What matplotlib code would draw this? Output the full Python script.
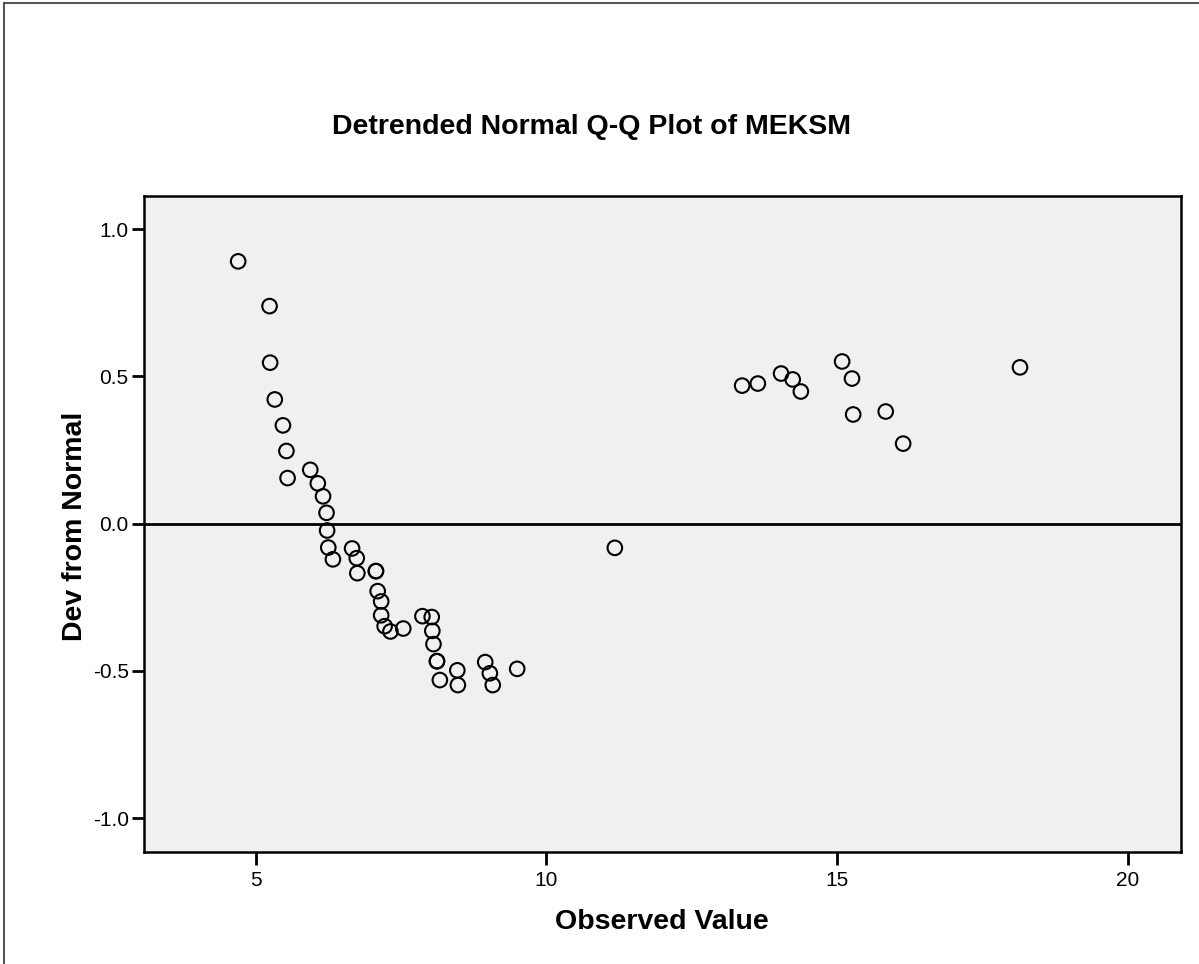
import numpy as np
import matplotlib
matplotlib.use("Agg")
import matplotlib.pyplot as plt
from matplotlib.lines import Line2D

observed = [4.70, 5.24, 5.25, 5.33, 5.47, 5.53, 5.55, 5.94, 6.07, 6.16,
            6.22, 6.23, 6.25, 6.33, 6.66, 6.74, 6.75, 7.07, 7.07, 7.10,
            7.16, 7.16, 7.22, 7.32, 7.54, 7.87, 8.03, 8.04, 8.06, 8.12,
            8.12, 8.17, 8.47, 8.48, 8.95, 9.03, 9.08, 9.50, 11.18, 13.37,
            13.64, 14.04, 14.24, 14.38, 15.09, 15.26, 15.28, 15.84, 16.14, 18.15]
dev_from_normal = [0.891, 0.739, 0.547, 0.422, 0.334, 0.247, 0.155, 0.183, 0.137, 0.093,
                   0.037, -0.023, -0.081, -0.121, -0.084, -0.117, -0.168, -0.161, -0.161, -0.229,
                   -0.264, -0.311, -0.348, -0.366, -0.356, -0.314, -0.317, -0.364, -0.409, -0.467,
                   -0.467, -0.531, -0.498, -0.548, -0.470, -0.508, -0.548, -0.493, -0.082, 0.469,
                   0.476, 0.510, 0.490, 0.449, 0.551, 0.493, 0.371, 0.381, 0.272, 0.531]

x_ticks = [5, 10, 15, 20]
y_ticks = [-1.0, -0.5, 0.0, 0.5, 1.0]

plt.rcParams['font.family'] = ['Liberation Sans', 'DejaVu Sans']

W, H = 1199, 964
fig = plt.figure(figsize=(W/100, H/100), dpi=100)
ax = fig.add_axes([144/W, (H-852)/H, (1181-144)/W, (852-196)/H])
ax.set_facecolor('#f0f0f0')

ax.axhline(0, color='black', lw=2, zorder=1)
ax.scatter(observed, dev_from_normal, s=110, facecolors='none', edgecolors='black',
           linewidths=1.5, zorder=3)

ax.set_xlim(3.08, 20.92)
ax.set_ylim(-1.115, 1.113)
ax.set_xticks(x_ticks)
ax.set_xticklabels([str(t) for t in x_ticks])
ax.set_yticks(y_ticks)
ax.set_yticklabels([f'{t:.1f}' for t in y_ticks])
ax.tick_params(axis='both', direction='out', length=9, width=2, labelsize=15, pad=2)
ax.tick_params(axis='x', pad=5)
for sp in ax.spines.values():
    sp.set_linewidth(1.8)

# axis titles and chart title placed where the reference has them
fig.text(662/W, 1 - 922/H, 'Observed Value', ha='center', va='center',
         fontsize=20.5, fontweight='bold')
fig.text(75/W, 1 - 526/H, 'Dev from Normal', ha='center', va='center', rotation=90,
         fontsize=20.5, fontweight='bold')
fig.text(591/W, 1 - 127/H, 'Detrended Normal Q-Q Plot of MEKSM', ha='center', va='center',
         fontsize=20.5, fontweight='bold')

# outer chart frame (cut off at right and bottom)
fig.add_artist(Line2D([4/W, 1], [1 - 3/H, 1 - 3/H], color='#555555', lw=1.5, transform=fig.transFigure))
fig.add_artist(Line2D([4/W, 4/W], [0, 1 - 3/H], color='#555555', lw=1.5, transform=fig.transFigure))

fig.savefig('out.png', dpi=100)
